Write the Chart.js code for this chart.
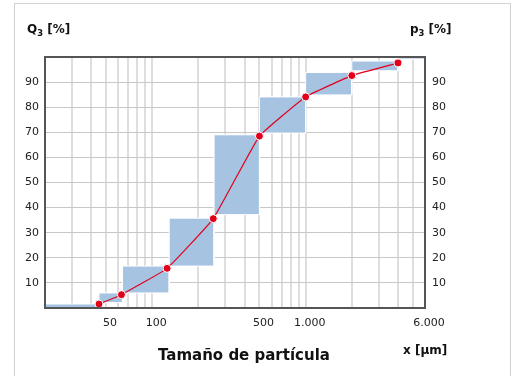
<!DOCTYPE html>
<html><head><meta charset="utf-8">
<script src="https://cdn.jsdelivr.net/npm/chart.js@4/dist/chart.umd.min.js"></script>
<style>
html,body{margin:0;padding:0;background:#fff;}
#wrap{position:relative;width:514px;height:376px;overflow:hidden;font-family:"DejaVu Sans",Verdana,sans-serif;}
#frame{position:absolute;left:14px;top:3px;width:497px;height:420px;border:1px solid #d2d2d2;box-sizing:border-box;}
canvas{position:absolute;left:0;top:0;}
.lbl{position:absolute;font-weight:bold;white-space:nowrap;line-height:1;color:#111;}
.lbl sub{font-size:0.7em;line-height:0;vertical-align:-0.3em;}
</style></head>
<body><div id="wrap">
<div id="frame"></div>
<canvas id="c" width="514" height="376"></canvas>
<div class="lbl" style="left:27px;top:23px;font-size:12px">Q<sub>3</sub> [%]</div>
<div class="lbl" style="left:410px;top:23px;font-size:12px">p<sub>3</sub> [%]</div>
<div class="lbl" style="left:158px;top:348px;font-size:15px">Tamaño de partícula</div>
<div class="lbl" style="left:403px;top:344px;font-size:12px">x [µm]</div>
</div>
<script>
// Cumulative distribution Q3 (red line)
const sizes = [45, 63, 125, 250, 500, 1000, 2000, 4000];
const q3 = [1.6, 5.3, 15.8, 35.6, 68.5, 84.1, 92.6, 97.6];
// Histogram p3 (blue floating bars)
const binEdges = [20, 45, 64, 129, 253, 500, 1000, 2000, 4000, 6000];
const p3Low  = [0, 2.2, 6.0, 16.7, 37.2, 69.7, 84.9, 94.5, 99.2];
const p3High = [1.6, 6.0, 16.7, 35.8, 69.0, 84.1, 93.8, 98.4, 100];
// Axis ticks
const xGridValues = [20,30,40,50,60,70,80,90,100,200,300,400,500,600,700,800,900,1000,2000,3000,4000,5000,6000];
const xLabelValues = [50, 100, 500, 1000, 6000];
const xTickLabels = ['50', '100', '500', '1.000', '6.000'];
const yTickValues = [0,10,20,30,40,50,60,70,80,90,100];

const lineDs = {
  label:'Q3', showLine:true, data: sizes.map((s,i)=>({x:s,y:q3[i]})),
  borderColor:'#e3001b', borderWidth:1.2, tension:0.1,
  pointRadius:4, pointBackgroundColor:'#e3001b', pointBorderColor:'#ffffff', pointBorderWidth:1,
  fill:false, order:0
};
const barDs = p3Low.map((lo,i)=>({
  label:'p3', showLine:true, yAxisID:'y2',
  data:[{x:binEdges[i],y:lo},{x:binEdges[i],y:p3High[i]},{x:binEdges[i+1],y:p3High[i]},{x:binEdges[i+1],y:lo},{x:binEdges[i],y:lo}],
  fill:'shape', backgroundColor:'#a6c3e2', borderColor:'#ffffff', borderWidth:1,
  pointRadius:0, tension:0, order:2
}));

const framePlugin = {
  id:'frame',
  afterDatasetsDraw(chart){
    const a = chart.chartArea, c = chart.ctx;
    c.save(); c.strokeStyle='#555'; c.lineWidth=2;
    c.strokeRect(a.left, a.top, a.right-a.left, a.bottom-a.top);
    c.restore();
  }
};
const tickFont = {family:'DejaVu Sans', size:11};
new Chart(document.getElementById('c'), {
  type:'scatter',
  data:{datasets:[lineDs, ...barDs]},
  plugins:[framePlugin],
  options:{
    responsive:false, animation:false, devicePixelRatio:1,
    layout:{padding:{top:57,left:0,right:0,bottom:0}},
    plugins:{legend:{display:false}, tooltip:{enabled:false}},
    scales:{
      x:{type:'logarithmic', position:'bottom', min:20, max:6000,
        afterBuildTicks:s=>{ s.ticks = xGridValues.map(v=>({value:v})); },
        afterFit:s=>{ s.height = 68; },
        grid:{color:'#dedede', lineWidth:2, drawTicks:false},
        border:{display:false},
        ticks:{autoSkip:false, maxRotation:0, minRotation:0, padding:9, labelOffset:4, color:'#222', font:tickFont,
          callback:(v)=>{ const i = xLabelValues.indexOf(v); return i>=0 ? xTickLabels[i] : ''; }}
      },
      y:{position:'left', min:0, max:100,
        afterBuildTicks:s=>{ s.ticks = yTickValues.map(v=>({value:v})); },
        afterFit:s=>{ s.width = 45; },
        grid:{color:'#c8c8c8', lineWidth:1, drawTicks:false},
        border:{display:false},
        ticks:{padding:6, color:'#222', font:tickFont, callback:v=>(v>0&&v<100)?String(v):''}
      },
      y2:{position:'right', min:0, max:100,
        afterBuildTicks:s=>{ s.ticks = yTickValues.map(v=>({value:v})); },
        afterFit:s=>{ s.width = 89; },
        grid:{display:false, drawTicks:false},
        border:{display:false},
        ticks:{padding:7, color:'#222', font:tickFont, callback:v=>(v>0&&v<100)?String(v):''}
      }
    }
  }
});
</script>
</body></html>
